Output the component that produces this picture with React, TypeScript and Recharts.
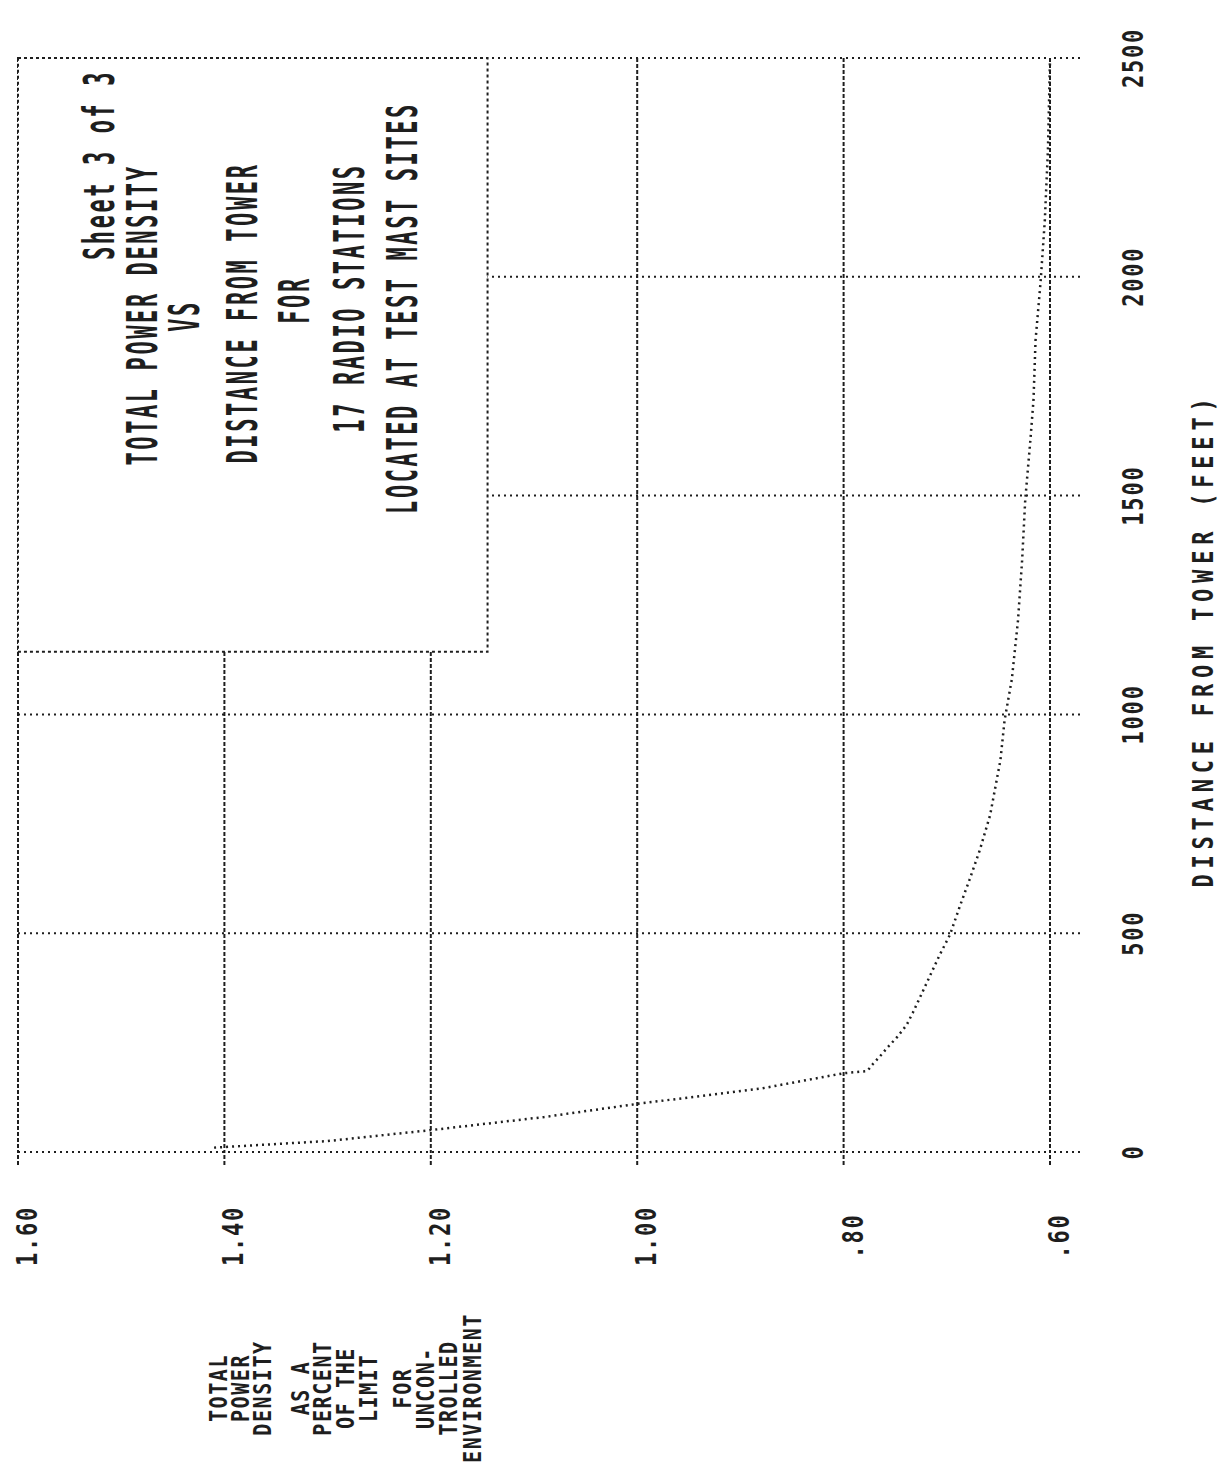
import React from 'react';
import { ScatterChart, Scatter, XAxis, YAxis, CartesianGrid, ReferenceArea } from 'recharts';

// distance from tower (feet) and total power density (% of limit)
const distanceFt = [10, 25, 50, 80, 110, 145, 180, 185, 200, 218, 240, 263, 290, 318, 343, 404, 450, 496, 564, 622, 690, 770, 896, 987, 1080, 1215, 1353, 1490, 1627, 1718, 1855, 1992, 2130, 2290, 2495];
const densityPct = [1.41, 1.3, 1.2, 1.09, 1.0, 0.88, 0.8, 0.777, 0.772, 0.765, 0.757, 0.748, 0.739, 0.733, 0.728, 0.716, 0.707, 0.697, 0.687, 0.678, 0.668, 0.658, 0.648, 0.644, 0.637, 0.631, 0.627, 0.624, 0.619, 0.616, 0.614, 0.609, 0.605, 0.602, 0.6];

const densityTicks = [0.6, 0.8, 1.0, 1.2, 1.4, 1.6];
const densityTickLabels = ['.60', '.80', '1.00', '1.20', '1.40', '1.60'];
const distanceTicks = [0, 500, 1000, 1500, 2000, 2500];
const distanceTickLabels = ['0', '500', '1000', '1500', '2000', '2500'];

const boxLines = ['Sheet 3 of 3', 'TOTAL POWER DENSITY', 'VS', 'DISTANCE FROM TOWER', 'FOR', '17 RADIO STATIONS', 'LOCATED AT TEST MAST SITES'];
const yTitle = 'DISTANCE FROM TOWER (FEET)';
const xTitleLines = ['TOTAL', 'POWER', 'DENSITY', 'AS A', 'PERCENT', 'OF THE', 'LIMIT', 'FOR', 'UNCON-', 'TROLLED', 'ENVIRONMENT'];

const rows = distanceFt.map((d, i) => ({ dist: d, dens: densityPct[i] }));

const INK = '#1e1e1e';
const VDASH = '4 2';
const HDOTS = '2 4';

const VText = ({ x, y, text, size = 22, spacing = 2, stretch = 1.6 }: any) => (
  <text
    transform={`translate(${x},${y}) rotate(-90) scale(1,${stretch})`}
    textAnchor="middle"
    dominantBaseline="central"
    fontFamily="'DejaVu Sans Mono', monospace"
    fontWeight="bold"
    fontSize={size}
    letterSpacing={spacing}
    fill={INK}
  >
    {text}
  </text>
);

const DensityTick = ({ x, payload }: any) => {
  const i = densityTicks.indexOf(payload.value);
  return <VText x={x + 9} y={1236} text={densityTickLabels[i]} size={22} spacing={1.8} stretch={1.3} />;
};

const DistanceTick = ({ y, payload }: any) => {
  const i = distanceTicks.indexOf(payload.value);
  return <VText x={1133} y={y} text={distanceTickLabels[i]} size={22} spacing={1.8} stretch={1.3} />;
};

const boxX = [100, 143, 185, 243, 295, 350, 403];
const boxY = [165, 315, 316, 313, 300, 298, 308];
const xTitleX = [218, 240, 262, 300, 322, 345, 368, 402, 425, 448, 472];

export default function App() {
  return (
    <div style={{ position: 'absolute', left: 0, top: 0, width: 1227, height: 1468, background: '#fff' }}>
      <ScatterChart width={1227} height={1468} margin={{ top: 58, left: 18, right: 77, bottom: 216 }}>
        <CartesianGrid vertical={false} stroke={INK} strokeWidth={2} strokeDasharray={HDOTS} />
        <CartesianGrid horizontal={false} stroke={INK} strokeWidth={2} strokeDasharray={VDASH} />
        <XAxis
          type="number"
          dataKey="dens"
          domain={[0.6, 1.6]}
          reversed
          ticks={densityTicks}
          height={100}
          tickSize={13}
          axisLine={false}
          tickLine={{ stroke: INK, strokeWidth: 2, strokeDasharray: VDASH }}
          tick={<DensityTick />}
        />
        <YAxis
          type="number"
          dataKey="dist"
          orientation="right"
          domain={[0, 2500]}
          ticks={distanceTicks}
          width={100}
          tickSize={30}
          axisLine={false}
          tickLine={{ stroke: INK, strokeWidth: 2, strokeDasharray: HDOTS }}
          tick={<DistanceTick />}
        />
        <ReferenceArea
          x1={1.6}
          x2={1.145}
          y1={1143}
          y2={2500}
          fill="#fff"
          fillOpacity={1}
          stroke={INK}
          strokeWidth={2}
          strokeDasharray="3 3"
          ifOverflow="visible"
        />
        <Scatter
          data={rows}
          line={{ stroke: INK, strokeWidth: 2.5, strokeDasharray: '2 4' }}
          lineType="joint"
          shape={() => <g />}
          isAnimationActive={false}
        />
      </ScatterChart>
      <svg width={1227} height={1468} style={{ position: 'absolute', left: 0, top: 0, pointerEvents: 'none' }}>
        {boxLines.map((t, i) => (
          <VText key={t} x={boxX[i]} y={boxY[i]} text={t} size={22} spacing={2.6} stretch={1.9} />
        ))}
        <VText x={1203} y={640} text={yTitle} size={22} spacing={5.8} stretch={1.3} />
        {xTitleLines.map((t, i) => (
          <VText key={t} x={xTitleX[i]} y={1388} text={t} size={20} spacing={1.6} stretch={1.2} />
        ))}
      </svg>
    </div>
  );
}
